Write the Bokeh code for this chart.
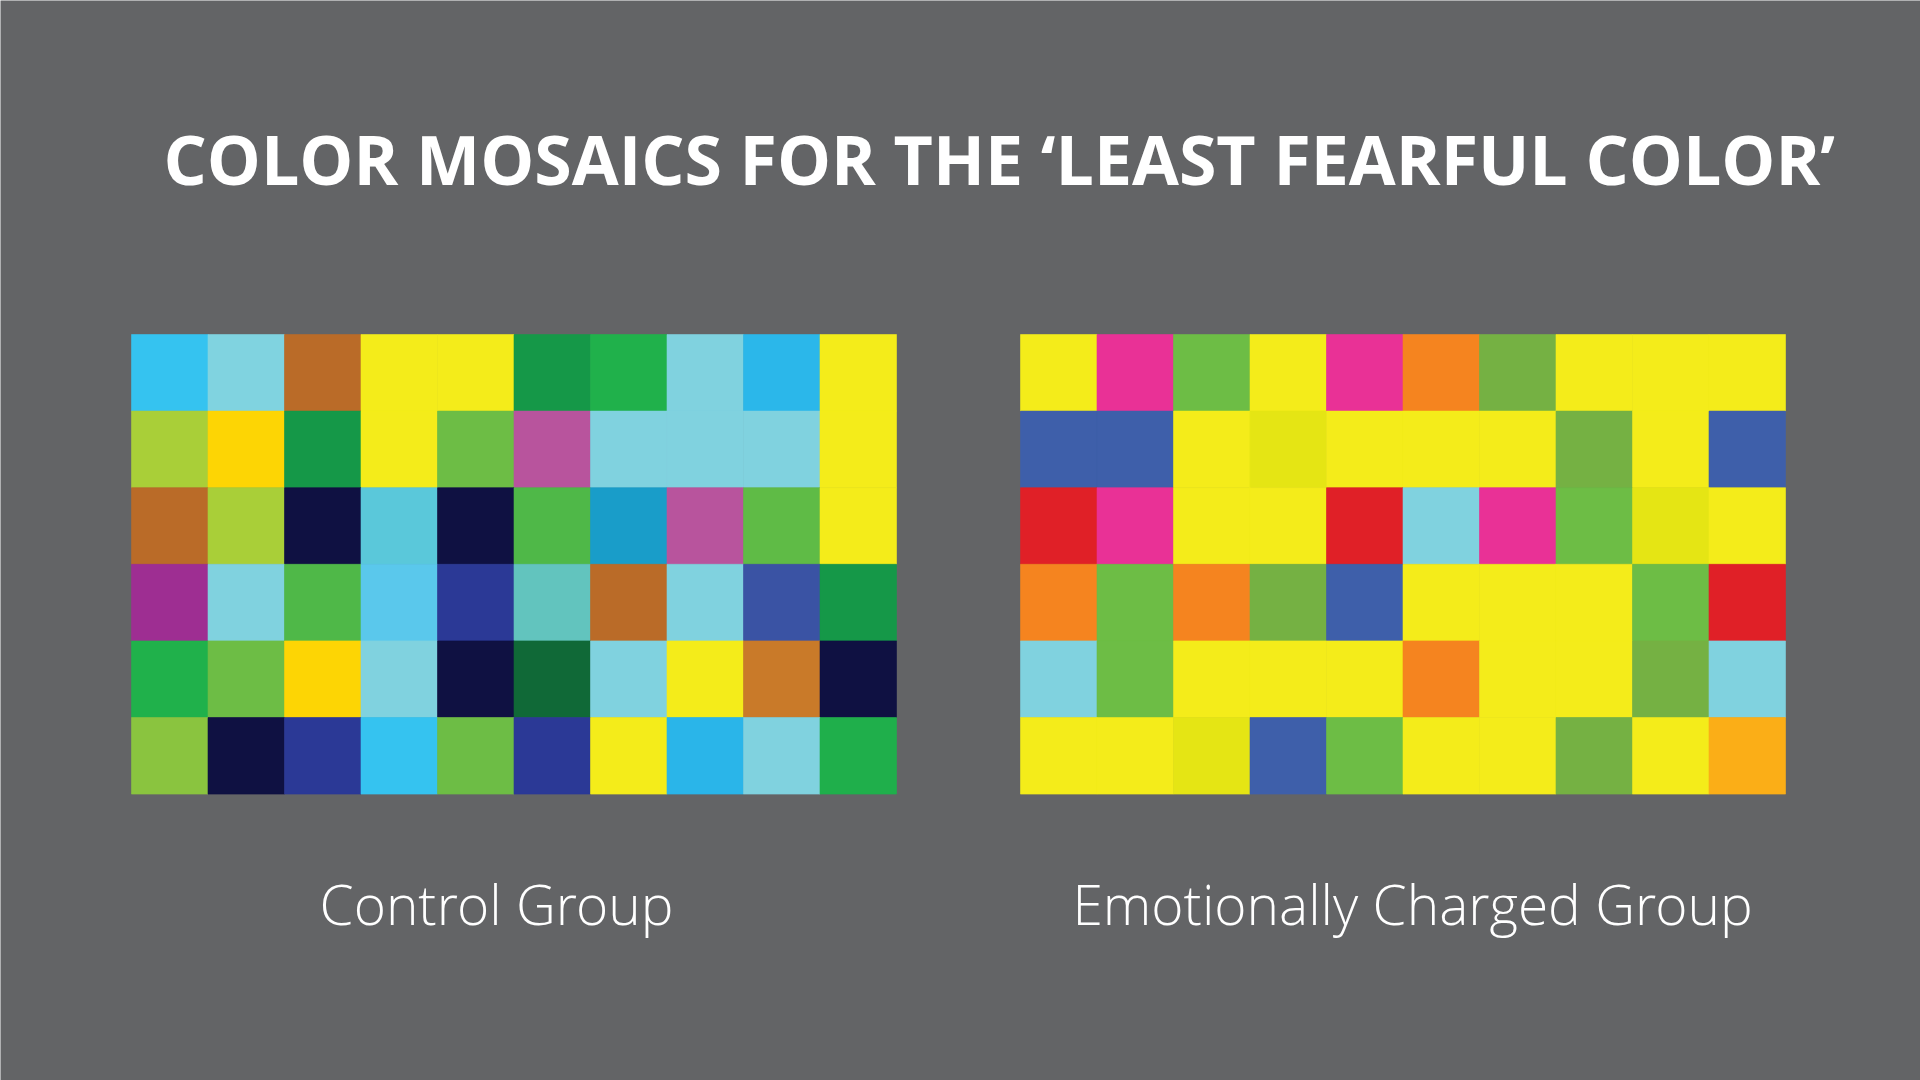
from bokeh.plotting import figure
from bokeh.models import Range1d, ColumnDataSource
from bokeh.core.properties import value
from bokeh.embed import file_html
from bokeh.resources import INLINE

title_text = "COLOR MOSAICS FOR THE \u2018LEAST FEARFUL COLOR\u2019"
group_labels = ["Control Group", "Emotionally Charged Group"]

# cell colours, row by row (top row first)
control_rows = [
    ["#35C3F0", "#80D3E0", "#BA6B28", "#F4EC1A", "#F4EC1A", "#159848", "#20B14B", "#80D2DF", "#2BB7EA", "#F4EC1A"],
    ["#A9CF38", "#FDD504", "#159848", "#F4EC1A", "#6DBD45", "#B8549D", "#80D2DF", "#80D2DF", "#80D2DF", "#F4EC1A"],
    ["#BA6B28", "#A9CF38", "#0F1142", "#5AC8DA", "#0F1142", "#4FB848", "#199DC9", "#B8549D", "#5FBB46", "#F4EC1A"],
    ["#9E2E92", "#80D2DF", "#4FB848", "#5AC8EC", "#2B3996", "#62C4BE", "#BA6B28", "#80D2DF", "#3A53A4", "#159848"],
    ["#20B14B", "#6DBD45", "#FDD504", "#80D2DF", "#0F1142", "#106937", "#80D2DF", "#F4EC1A", "#C97A29", "#0F1142"],
    ["#8AC43F", "#0F1142", "#2B3996", "#35C3F0", "#6DBD45", "#2B3996", "#F4EC1A", "#2AB5E9", "#80D2DF", "#1FAF4B"],
]
charged_rows = [
    ["#F4EC1A", "#E93196", "#6DBD45", "#F4EC1A", "#E93196", "#F5841F", "#75B143", "#F4EC1A", "#F4EC1A", "#F4EC1A"],
    ["#3E5FAA", "#3E5FAA", "#F4EC1A", "#E5E514", "#F4EC1A", "#F4EC1A", "#F4EC1A", "#75B143", "#F4EC1A", "#3E5FAA"],
    ["#E02027", "#E93196", "#F4EC1A", "#F4EC1A", "#E02027", "#80D2DF", "#E93196", "#6DBD45", "#E5E514", "#F4EC1A"],
    ["#F5841F", "#6DBD45", "#F5841F", "#75B143", "#3E5FAA", "#F4EC1A", "#F4EC1A", "#F4EC1A", "#6DBD45", "#E02027"],
    ["#80D2DF", "#6DBD45", "#F4EC1A", "#F4EC1A", "#F4EC1A", "#F5841F", "#F4EC1A", "#F4EC1A", "#75B143", "#80D2DF"],
    ["#F4EC1A", "#F4EC1A", "#E5E514", "#3E5FAA", "#6DBD45", "#F4EC1A", "#F4EC1A", "#75B143", "#F4EC1A", "#FBAE17"],
]

W, H = 1920, 1080
BG = "#636466"

p = figure(width=W, height=H, output_backend="svg", toolbar_location=None,
           x_range=Range1d(0, W), y_range=Range1d(H, 0),
           min_border=0, background_fill_color=BG, border_fill_color=BG)
p.axis.visible = False
p.grid.visible = False
p.outline_line_color = None

cell_w = 76.5
cell_h = 76.6
grid_top = 334
grid_lefts = [131, 1020]

for rows, left in zip([control_rows, charged_rows], grid_lefts):
    xs, ys, cs = [], [], []
    for r, row in enumerate(rows):
        for c, col in enumerate(row):
            xs.append(left + (c + 0.5) * cell_w)
            ys.append(grid_top + (r + 0.5) * cell_h)
            cs.append(col)
    src = ColumnDataSource(dict(x=xs, y=ys, c=cs))
    p.rect(x="x", y="y", width=cell_w, height=cell_h, source=src,
           fill_color="c", line_color="c", line_width=0.6)

p.text(x=[163], y=[158], text=[title_text], text_font=value("Open Sans"),
       text_font_style="bold", text_font_size="68px", text_color="white",
       text_align="left", text_baseline="alphabetic")

label_x = [496, 1412]
p.text(x=label_x, y=[903, 903], text=group_labels,
       text_font=value("'Open Sans Light', 'Open Sans'"),
       text_font_size="55px", text_color="white",
       text_align="center", text_baseline="alphabetic")

open("out.html", "w").write(file_html(p, INLINE))
